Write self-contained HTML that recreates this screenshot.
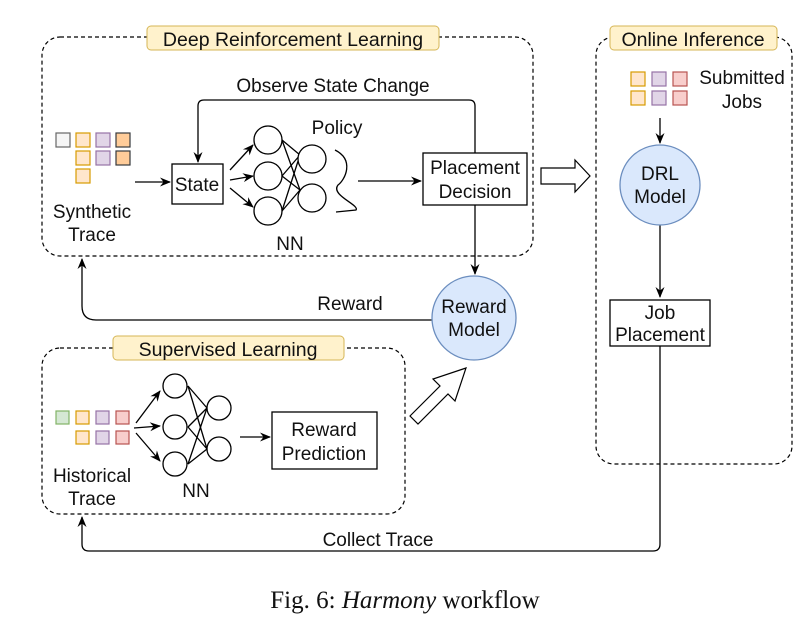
<!DOCTYPE html>
<html><head><meta charset="utf-8"><style>
html,body{margin:0;padding:0;background:#fff;}
svg{display:block;font-family:"Liberation Sans",sans-serif;}
</style></head><body>
<svg width="811" height="621" viewBox="0 0 811 621" xmlns="http://www.w3.org/2000/svg">
<defs>
<marker id="a" markerWidth="12" markerHeight="12" refX="10" refY="6" orient="auto" markerUnits="userSpaceOnUse">
<path d="M0,1.5 L11,6 L0,10.5 L3.5,6 Z" fill="#000"/></marker>
</defs>
<g fill="none" stroke="#000" stroke-width="1.2">
<rect x="42" y="37" width="491" height="219" rx="18" stroke-dasharray="4,3"/>
<rect x="42" y="348" width="363" height="166" rx="18" stroke-dasharray="4,3"/>
<rect x="596" y="37" width="196" height="427" rx="18" stroke-dasharray="4,3"/>
</g>
<g fill="#fff2cc" stroke="#d6b656" stroke-width="1">
<rect x="147" y="26" width="292" height="24" rx="4"/>
<rect x="113" y="336" width="231" height="24" rx="4"/>
<rect x="610" y="26" width="167" height="24" rx="4"/>
</g>
<g font-size="19.5" fill="#111" text-anchor="middle">
<text x="293" y="46">Deep Reinforcement Learning</text>
<text x="228" y="356">Supervised Learning</text>
<text x="693" y="46">Online Inference</text>
</g>
<g stroke-width="1.2">
<rect x="56" y="133" width="14" height="14" fill="#f5f5f5" stroke="#666"/>
<rect x="76" y="133" width="14" height="14" fill="#ffe6cc" stroke="#d79b00"/>
<rect x="96" y="133" width="14" height="14" fill="#e1d5e7" stroke="#9673a6"/>
<rect x="116" y="133" width="14" height="14" fill="#ffcc99" stroke="#36393d"/>
<rect x="76" y="151" width="14" height="14" fill="#ffe6cc" stroke="#d79b00"/>
<rect x="96" y="151" width="14" height="14" fill="#e1d5e7" stroke="#9673a6"/>
<rect x="116" y="151" width="14" height="14" fill="#ffcc99" stroke="#36393d"/>
<rect x="76" y="169" width="14" height="14" fill="#ffe6cc" stroke="#d79b00"/>
<rect x="56" y="411" width="13" height="13" fill="#d5e8d4" stroke="#82b366"/>
<rect x="76" y="411" width="13" height="13" fill="#ffe6cc" stroke="#d79b00"/>
<rect x="96" y="411" width="13" height="13" fill="#e1d5e7" stroke="#9673a6"/>
<rect x="116" y="411" width="13" height="13" fill="#f8cecc" stroke="#b85450"/>
<rect x="76" y="431" width="13" height="13" fill="#ffe6cc" stroke="#d79b00"/>
<rect x="96" y="431" width="13" height="13" fill="#e1d5e7" stroke="#9673a6"/>
<rect x="116" y="431" width="13" height="13" fill="#f8cecc" stroke="#b85450"/>
<rect x="631" y="72" width="14" height="14" fill="#ffe6cc" stroke="#d79b00"/>
<rect x="652" y="72" width="14" height="14" fill="#e1d5e7" stroke="#9673a6"/>
<rect x="673" y="72" width="14" height="14" fill="#f8cecc" stroke="#b85450"/>
<rect x="631" y="91" width="14" height="14" fill="#ffe6cc" stroke="#d79b00"/>
<rect x="652" y="91" width="14" height="14" fill="#e1d5e7" stroke="#9673a6"/>
<rect x="673" y="91" width="14" height="14" fill="#f8cecc" stroke="#b85450"/>
</g>
<g fill="none" stroke="#000" stroke-width="1.3">
<line x1="135" y1="182" x2="170" y2="182" marker-end="url(#a)"/>
<rect x="172" y="164" width="51" height="40" fill="#fff"/>
<line x1="230" y1="170" x2="253" y2="145" marker-end="url(#a)"/>
<line x1="230" y1="180" x2="253" y2="176" marker-end="url(#a)"/>
<line x1="230" y1="188" x2="253" y2="207" marker-end="url(#a)"/>
<line x1="282" y1="140" x2="300" y2="155"/><line x1="282" y1="140" x2="300" y2="190"/>
<line x1="282" y1="176" x2="300" y2="155"/><line x1="282" y1="176" x2="300" y2="190"/>
<line x1="282" y1="211" x2="300" y2="155"/><line x1="282" y1="211" x2="300" y2="190"/>
<circle cx="268" cy="140" r="14" fill="#fff"/>
<circle cx="268" cy="176" r="14" fill="#fff"/>
<circle cx="268" cy="211" r="14" fill="#fff"/>
<circle cx="312" cy="159" r="14" fill="#fff"/>
<circle cx="312" cy="198" r="14" fill="#fff"/>
<path d="M335,150 C355,160 345,180 338,185 C330,195 360,205 356,210 L336,212"/>
<line x1="358" y1="181" x2="421" y2="181" marker-end="url(#a)"/>
<rect x="423" y="153" width="104" height="52" fill="#fff"/>
<path d="M475,153 L475,106 Q475,100 469,100 L204,100 Q198,100 198,106 L198,162" marker-end="url(#a)"/>
<line x1="475" y1="205" x2="475" y2="274" marker-end="url(#a)"/>
<path d="M432,320 L96,320 Q82,320 82,306 L82,259" marker-end="url(#a)"/>
<line x1="136" y1="423" x2="160" y2="391" marker-end="url(#a)"/>
<line x1="134" y1="428" x2="160" y2="426" marker-end="url(#a)"/>
<line x1="136" y1="433" x2="160" y2="461" marker-end="url(#a)"/>
<line x1="188" y1="386" x2="207" y2="408"/><line x1="188" y1="386" x2="207" y2="449"/>
<line x1="188" y1="427" x2="207" y2="408"/><line x1="188" y1="427" x2="207" y2="449"/>
<line x1="188" y1="464" x2="207" y2="408"/><line x1="188" y1="464" x2="207" y2="449"/>
<circle cx="175" cy="386" r="12" fill="#fff"/>
<circle cx="175" cy="427" r="12" fill="#fff"/>
<circle cx="175" cy="464" r="12" fill="#fff"/>
<circle cx="219" cy="408" r="12" fill="#fff"/>
<circle cx="219" cy="449" r="12" fill="#fff"/>
<line x1="240" y1="437" x2="270" y2="437" marker-end="url(#a)"/>
<rect x="272" y="412" width="105" height="57" fill="#fff"/>
<line x1="660" y1="118" x2="660" y2="143" marker-end="url(#a)"/>
<line x1="660" y1="225" x2="660" y2="297" marker-end="url(#a)"/>
<rect x="610" y="300" width="100" height="46" fill="#fff"/>
<path d="M660,346 L660,544 Q660,551 653,551 L89,551 Q82,551 82,544 L82,517" marker-end="url(#a)"/>
<path d="M541,168 L575,168 L575,160 L590,176 L575,192 L575,184 L541,184 Z" stroke-width="1.2"/>
<path d="M410,416 L440,386 L433,379 L466,368 L455,401 L448,394 L418,424 Z" stroke-width="1.2"/>
</g>
<circle cx="474" cy="318" r="42" fill="#dae8fc" stroke="#6c8ebf" stroke-width="1.3"/>
<circle cx="660" cy="185" r="40" fill="#dae8fc" stroke="#6c8ebf" stroke-width="1.3"/>
<g font-size="19" fill="#111" text-anchor="middle">
<text x="92" y="218">Synthetic</text>
<text x="92" y="241">Trace</text>
<text x="197" y="191">State</text>
<text x="337" y="134">Policy</text>
<text x="290" y="250">NN</text>
<text x="333" y="92">Observe State Change</text>
<text x="475" y="174">Placement</text>
<text x="475" y="198">Decision</text>
<text x="474" y="313">Reward</text>
<text x="474" y="336">Model</text>
<text x="350" y="310">Reward</text>
<text x="742" y="84">Submitted</text>
<text x="742" y="108">Jobs</text>
<text x="660" y="180">DRL</text>
<text x="660" y="203">Model</text>
<text x="660" y="319">Job</text>
<text x="660" y="341">Placement</text>
<text x="92" y="482">Historical</text>
<text x="92" y="505">Trace</text>
<text x="196" y="497">NN</text>
<text x="324" y="436">Reward</text>
<text x="324" y="460">Prediction</text>
<text x="378" y="546">Collect Trace</text>
</g>
<text x="405" y="608" font-family="Liberation Serif,serif" font-size="25" text-anchor="middle" fill="#111">Fig. 6: <tspan font-style="italic">Harmony</tspan> workflow</text>
</svg>
</body></html>
